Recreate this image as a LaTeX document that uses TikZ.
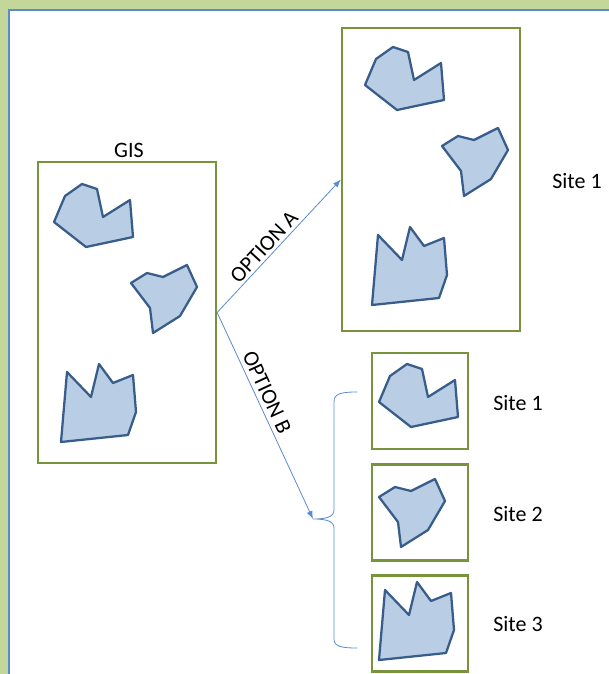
\documentclass[tikz,border=0pt]{standalone}
\usepackage{fontspec}
\setmainfont{Carlito}
\usetikzlibrary{arrows.meta}

\definecolor{framegreen}{HTML}{C4D79B}
\definecolor{frameblue}{HTML}{5B8BCF}
\definecolor{boxgreen}{HTML}{77933C}
\definecolor{lotfill}{HTML}{B9CDE5}
\definecolor{lotline}{HTML}{385D8A}
\definecolor{linkblue}{HTML}{5B8BCF}

\begin{document}
\begin{tikzpicture}[x = 0.75pt, y = -0.75pt,
    every node/.style = {font = \fontsize{16.5}{19}\selectfont, inner sep = 1pt},
    area/.style = {draw = boxgreen, line width = 1.7pt, minimum width = #1},
    lot/.style = {draw = lotline, fill = lotfill, line width = 1.7pt, line join = round},
    link/.style = {draw = linkblue, line width = 0.6pt},
    lotone/.pic = {\draw[lot] (54,222) -- (65,196) -- (82,184) -- (97,189) -- (103,217)
        -- (130,200) -- (133,237) -- (86,247) -- cycle;},
    lottwo/.pic = {\draw[lot] (131,283) -- (147,273) -- (163,277) -- (187,265) -- (197,287)
        -- (180,316) -- (153,333) -- (150,308) -- cycle;},
    lotthree/.pic = {\draw[lot] (67,372) -- (91,397) -- (99,364) -- (113,383) -- (133,375)
        -- (136,412) -- (128,435) -- (61,442) -- cycle;}]
    \useasboundingbox (0,0) rectangle (609,674);
    % frame
    \fill[framegreen] (0,0) rectangle (609,674);
    \draw[frameblue, line width = 1.5pt, fill = white] (9,10) rectangle (640,700);

    % GIS
    \node[area = 133.5pt, minimum height = 225.75pt] (gis) at (127,312.5) {};
    \node (gislabel) at (129,150) {GIS};
    \pic at (0,0) {lotone};
    \pic at (0,0) {lottwo};
    \pic at (0,0) {lotthree};

    % option A
    \node[area = 133.5pt, minimum height = 227.25pt] (sitea) at (431,179.5) {};
    \node (siteal) at (577,181) {Site 1};
    \pic at (311,-137) {lotone};
    \pic at (311,-137) {lottwo};
    \pic at (311,-137) {lotthree};

    % option B
    \node[area = 72pt, minimum height = 72pt] (siteb1) at (420,401) {};
    \node[area = 72pt, minimum height = 72pt] (siteb2) at (420,512.5) {};
    \node[area = 72pt, minimum height = 72pt] (siteb3) at (420,623.5) {};
    \node (siteb1l) at (518,403) {Site 1};
    \node (siteb2l) at (518,514) {Site 2};
    \node (siteb3l) at (518,624) {Site 3};
    \pic at (325,180) {lotone};
    \pic at (248,214) {lottwo};
    \pic at (318,218) {lotthree};

    % brace
    \coordinate (tip) at (313,519);
    \draw[link] (357,392) .. controls (340,392) and (334,394) .. (334,402) -- (334,510)
        .. controls (334,517) and (326,519) .. (tip)
        .. controls (326,519) and (334,521) .. (334,528) -- (334,639)
        .. controls (334,646) and (340,648) .. (357,648);

    % arrows
    \draw[link, -{Latex[length = 6pt, width = 4.5pt]}] (gis.east) -- (sitea.west)
        node[pos = 0.44, sloped, above = 1pt] {OPTION A};
    \draw[link, -{Latex[length = 6pt, width = 4.5pt]}] (gis.east) -- (tip)
        node[pos = 0.41, sloped, above = 2pt] {OPTION B};
\end{tikzpicture}
\end{document}
